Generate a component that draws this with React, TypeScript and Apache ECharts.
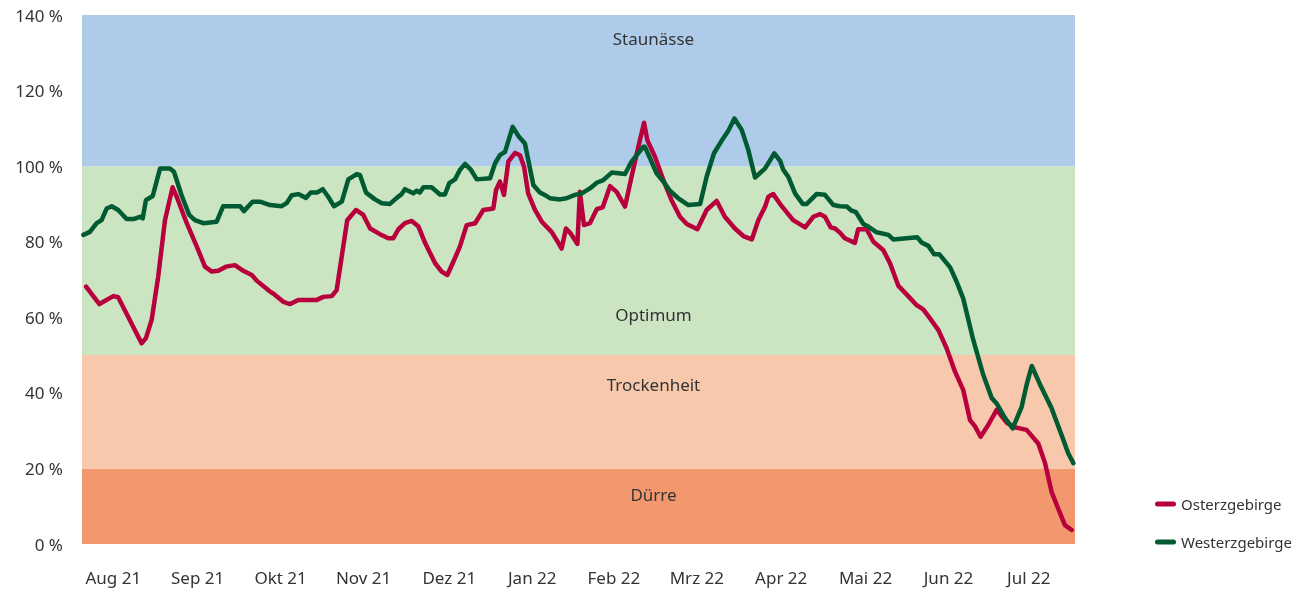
import React, { useEffect, useRef } from "react";
import * as echarts from "echarts";

// day index (0 = start of period) and soil moisture in %
const osterzgebirge: [number, number][] = [
  [1.5, 68.1], [6.4, 63.5], [11.5, 65.6], [13.3, 65.3], [17, 60.1], [21.9, 53.1], [23.5, 54.5],
  [25.6, 59.3], [28, 70.7], [30.5, 85.7], [33.3, 94.4], [34.8, 91.9], [38.5, 84.9], [42.2, 78.7],
  [45.2, 73.4], [47.7, 72.1], [50.1, 72.3], [52.9, 73.4], [56.2, 73.8], [59.3, 72.3], [62.4, 71.2],
  [64.2, 69.7], [69.1, 66.8], [70.3, 66.3], [74, 64.1], [76.5, 63.5], [79.5, 64.6], [86.3, 64.6],
  [88.7, 65.4], [91.8, 65.6], [93.6, 67.2], [97.5, 85.7], [100.7, 88.4], [103.4, 87.1], [105.9, 83.5],
  [109.5, 82], [112.6, 80.9], [114.4, 80.9], [116.3, 83.3], [118.7, 84.9], [121.2, 85.5], [123.6, 84.1],
  [126.1, 79.7], [129.8, 74.3], [132.2, 72.1], [134.3, 71.2], [136.5, 74.7], [138.9, 78.7], [141.4, 84.4],
  [144.5, 84.9], [147.5, 88.4], [151.2, 88.8], [152.2, 93.7], [153.6, 95.9], [155.1, 92.4], [156.7, 101.2],
  [159.2, 103.5], [161, 102.9], [162.5, 99.8], [164, 92.8], [166.5, 88.4], [169, 85.3], [172.6, 82.6],
  [174.5, 80.4], [176.3, 78.2], [177.9, 83.5], [179.6, 82.2], [182.1, 79.4], [183, 93.2], [184.5, 84.4],
  [186.7, 84.9], [189.2, 88.6], [191.4, 89.1], [194.1, 94.7], [196.5, 93.2], [199.6, 89.3], [202, 97.2],
  [204.5, 105.1], [206.6, 111.5], [207.8, 106.9], [210.6, 102.5], [213.7, 96.3], [216.7, 91], [219.8, 86.6],
  [222.3, 84.7], [226.2, 83.3], [229.6, 88.4], [233.3, 90.8], [236.3, 86.6], [240, 83.5], [243.1, 81.5],
  [246.2, 80.6], [248.6, 85.7], [251.1, 89.3], [252.3, 91.9], [254.1, 92.6], [257.2, 89.4], [261.4, 85.7],
  [265.8, 83.8], [268.8, 86.6], [271.3, 87.3], [273.1, 86.6], [275.2, 83.8], [276.8, 83.5], [278.6, 82.4],
  [280.4, 80.9], [284.1, 79.7], [285.3, 83.3], [288.4, 83.3], [290.9, 80], [294.5, 77.8], [297, 74.3],
  [300.1, 68.3], [303.7, 65.6], [306.8, 63.2], [309.2, 62.1], [311.7, 59.7], [314.8, 56.6], [317.8, 51.8],
  [320.9, 45.6], [323.9, 40.8], [326.4, 32.8], [328.2, 31.2], [330.3, 28.4], [333.1, 31.5], [336.2, 35.5],
  [339.9, 32.1], [342.9, 30.9], [347.2, 30.2], [351.5, 26.6], [354, 21.4], [356.4, 13.8], [358.8, 9.4],
  [361.3, 5], [363.8, 3.7],
];

const westerzgebirge: [number, number][] = [
  [0.5, 81.8], [2.9, 82.6], [5.4, 84.9], [7.2, 85.7], [9.1, 88.8], [10.9, 89.4], [13.3, 88.4], [16.4, 86],
  [18.9, 86], [21.3, 86.6], [22.3, 86.2], [23.5, 91], [26, 92.1], [28.7, 99.4], [32.3, 99.4], [33.8, 98.5],
  [36.6, 92.3], [39.4, 87.1], [41.5, 85.7], [44.6, 84.9], [49.5, 85.3], [51.9, 89.4], [58.1, 89.4],
  [59.5, 88.1], [62.7, 90.6], [65.4, 90.6], [69.1, 89.7], [73.4, 89.4], [75.2, 90.2], [77.1, 92.3],
  [79.5, 92.6], [82.3, 91.6], [84.1, 93], [86.3, 93], [88.5, 93.9], [90.5, 91.9], [92.6, 89.4], [95.5, 90.6],
  [97.9, 96.5], [101, 97.9], [102.2, 97.6], [104.4, 93], [107.7, 91.2], [110.2, 90.2], [113.2, 90],
  [115.7, 91.6], [117.5, 92.6], [118.7, 93.9], [121.8, 92.8], [123, 93.5], [124.2, 93], [125.5, 94.4],
  [128.5, 94.4], [131.6, 92.5], [133.4, 92.5], [135, 95.5], [137.1, 96.5], [138.9, 99], [140.8, 100.6],
  [142.9, 99.1], [145.1, 96.5], [150, 96.8], [151.8, 100.7], [153.6, 102.9], [155.5, 103.8], [158.3, 110.4],
  [160.4, 108], [162.8, 106], [165.9, 95], [168.3, 93], [170.8, 92.1], [172, 91.5], [175.7, 91.2],
  [178.1, 91.5], [181.2, 92.4], [183.7, 92.8], [186.7, 94.1], [189.2, 95.6], [191.6, 96.3], [194.7, 98.3],
  [199.6, 97.9], [202, 101.2], [206.3, 105.1], [206.9, 105.1], [208.8, 102.1], [211.2, 98.1], [213.7, 95.9],
  [216.1, 93.5], [219.2, 91.5], [222.9, 89.7], [227.2, 90], [229.6, 97.2], [232.3, 103.4], [235.1, 106.7],
  [237.6, 109.4], [239.8, 112.6], [242.5, 109.6], [244.9, 104.3], [247.4, 97], [251.1, 99.4], [254.5, 103.4],
  [256.6, 101.4], [257.8, 99], [259.6, 97.2], [262.1, 92.8], [264.9, 90], [266.4, 90], [270, 92.6],
  [273.1, 92.4], [276.2, 89.7], [278.6, 89.4], [281.1, 89.3], [282.9, 88.2], [284.5, 87.8], [287.2, 84.7],
  [289, 84], [292.1, 82.5], [296.4, 81.8], [298.2, 80.6], [307, 81.2], [308.6, 79.8], [311.1, 78.9],
  [313.2, 76.7], [315.1, 76.7], [319.1, 73.2], [321.5, 69.4], [323.9, 65], [327.6, 54], [331.3, 44.7],
  [334.4, 38.6], [336.2, 37.2], [339.3, 33.3], [342.1, 30.6], [345.4, 36.3], [347.2, 42.1], [349.1, 47.1],
  [352.1, 42.3], [356.4, 35.9], [360.1, 28.8], [362.5, 24], [364.4, 21.4],
];

const monthLabels = ["Aug 21", "Sep 21", "Okt 21", "Nov 21", "Dez 21", "Jan 22", "Feb 22", "Mrz 22", "Apr 22", "Mai 22", "Jun 22", "Jul 22"];
const monthLabelDays = [11.5, 42.5, 73, 103.5, 135, 165.5, 195.5, 226, 257, 288, 318.5, 348];

const bandNames = ["Dürre", "Trockenheit", "Optimum", "Staunässe"];
const bandLimits = [0, 20, 50, 100, 140];
const bandColors = ["#F2976E", "#F8C8AD", "#CBE4C2", "#AECCEA"];

const FONT = "'Noto Sans', sans-serif";
const TEXT = "#333333";

export default function App() {
  const ref = useRef<HTMLDivElement>(null);
  useEffect(() => {
    if (!ref.current) return;
    const chart = echarts.init(ref.current, null, { renderer: "svg" });
    const bandLabel = [
      { position: "insideTop", distance: 18 },
      { position: "insideTop", distance: 21 },
      { position: "insideBottom", distance: 32 },
      { position: "insideTop", distance: 15 },
    ];
    const markData = bandNames.map((name, i) => [
      {
        name,
        yAxis: bandLimits[i],
        itemStyle: { color: bandColors[i], opacity: 1 },
        label: {
          show: true,
          position: bandLabel[i].position,
          distance: bandLabel[i].distance,
          offset: [75, 0],
          color: TEXT,
          fontSize: 17,
          fontFamily: FONT,
        },
      },
      { yAxis: bandLimits[i + 1] },
    ]);
    chart.setOption({
      animation: false,
      textStyle: { fontFamily: FONT },
      grid: { left: 82, right: 241, top: 15, bottom: 48 },
      legend: {
        data: ["Osterzgebirge", "Westerzgebirge"],
        orient: "vertical",
        left: 1150,
        top: 490,
        itemWidth: 21,
        itemHeight: 5,
        itemGap: 20,
        icon: "path://M2.5,0 L18.5,0 A2.5,2.5 0 0 1 18.5,5 L2.5,5 A2.5,2.5 0 0 1 2.5,0 Z",
        textStyle: { fontSize: 15, color: TEXT, fontFamily: FONT, lineHeight: 18 },
      },
      xAxis: {
        type: "value",
        min: 0,
        max: 365,
        interval: 0.5,
        axisLine: { show: false },
        axisTick: { show: false },
        splitLine: { show: false },
        axisLabel: {
          margin: 25,
          fontSize: 17,
          color: TEXT,
          fontFamily: FONT,
          showMinLabel: true,
          showMaxLabel: true,
          formatter: (v: number) => {
            const i = monthLabelDays.findIndex((d) => Math.abs(d - v) < 0.01);
            return i >= 0 ? monthLabels[i] : "";
          },
        },
      },
      yAxis: {
        type: "value",
        min: 0,
        max: 140,
        interval: 20,
        axisLine: { show: false },
        axisTick: { show: false },
        splitLine: { show: false },
        axisLabel: { formatter: "{value} %", margin: 19, fontSize: 17, color: TEXT, fontFamily: FONT },
      },
      series: [
        {
          name: "bands",
          type: "line",
          data: [],
          z: 1,
          silent: true,
          markArea: { silent: true, data: markData },
        },
        {
          name: "Osterzgebirge",
          type: "line",
          z: 2,
          data: osterzgebirge,
          showSymbol: false,
          symbol: "none",
          color: "#B8003C",
          lineStyle: { color: "#B8003C", width: 4.5, join: "round", cap: "round" },
        },
        {
          name: "Westerzgebirge",
          type: "line",
          z: 3,
          data: westerzgebirge,
          showSymbol: false,
          symbol: "none",
          color: "#005A32",
          lineStyle: { color: "#005A32", width: 4.5, join: "round", cap: "round" },
        },
      ],
    });
    return () => chart.dispose();
  }, []);
  return <div ref={ref} style={{ position: "fixed", left: 0, top: 0, width: 1316, height: 592 }} />;
}
